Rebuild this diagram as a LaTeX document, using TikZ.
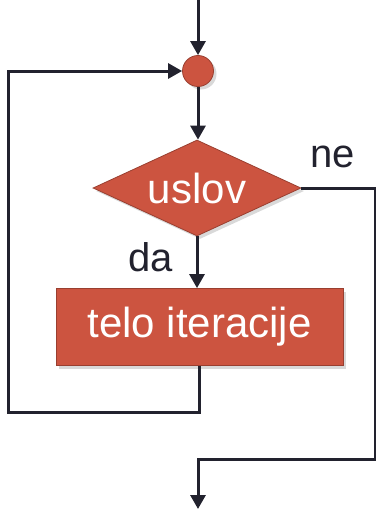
\documentclass[tikz,border=0pt]{standalone}
\usepackage{fontspec}
\setmainfont{Liberation Sans}
\usetikzlibrary{arrows.meta,shapes.geometric,shadows}
\definecolor{boxred}{HTML}{CC5440}
\definecolor{lineblk}{HTML}{22222E}
\begin{document}
\begin{tikzpicture}[x=1pt,y=1pt,
  flow/.style={draw=lineblk,line width=3pt},
  arr/.style={flow,-{Triangle[width=15pt,length=14pt]}},
  redshape/.style={fill=boxred,draw=boxred!75!black,line width=0.8pt,
    drop shadow={shadow xshift=3pt,shadow yshift=-3pt,opacity=0.3}},
  intext/.style={text=white,font=\fontsize{42}{42}\selectfont},
  lbl/.style={text=lineblk,font=\fontsize{40}{40}\selectfont,inner sep=0pt}]
\useasboundingbox (0,0) rectangle (375,-511);
\coordinate (top) at (198,0);
\node[circle,redshape,minimum size=31pt,inner sep=0pt] (j) at (198,-71) {};
\node[diamond,redshape,intext,aspect=2.2,inner sep=0pt,minimum width=208pt,minimum height=96pt] (c) at (197,-188) {uslov};
\node[rectangle,redshape,intext,minimum width=287pt,minimum height=77pt,inner sep=0pt] (b) at (199.5,-327) {telo iteracije};
\coordinate (bl) at (8,-412);
\coordinate (rr) at (375.5,-459);
\coordinate (bot) at (198,-509);
\draw[arr] (top) -- (j.north);
\draw[arr] (j.south) -- (j.south |- c.north);
\draw[arr] (c.south) -- (c.south |- b.north);
\draw[arr] (b.south) |- (bl) |- (j.west);
\draw[arr] (c.east) -| (rr) -| (bot);
\node[lbl] (ne) at (333,-157) {ne};
\node[lbl] (da) at (151,-257) {da};
\end{tikzpicture}
\end{document}
